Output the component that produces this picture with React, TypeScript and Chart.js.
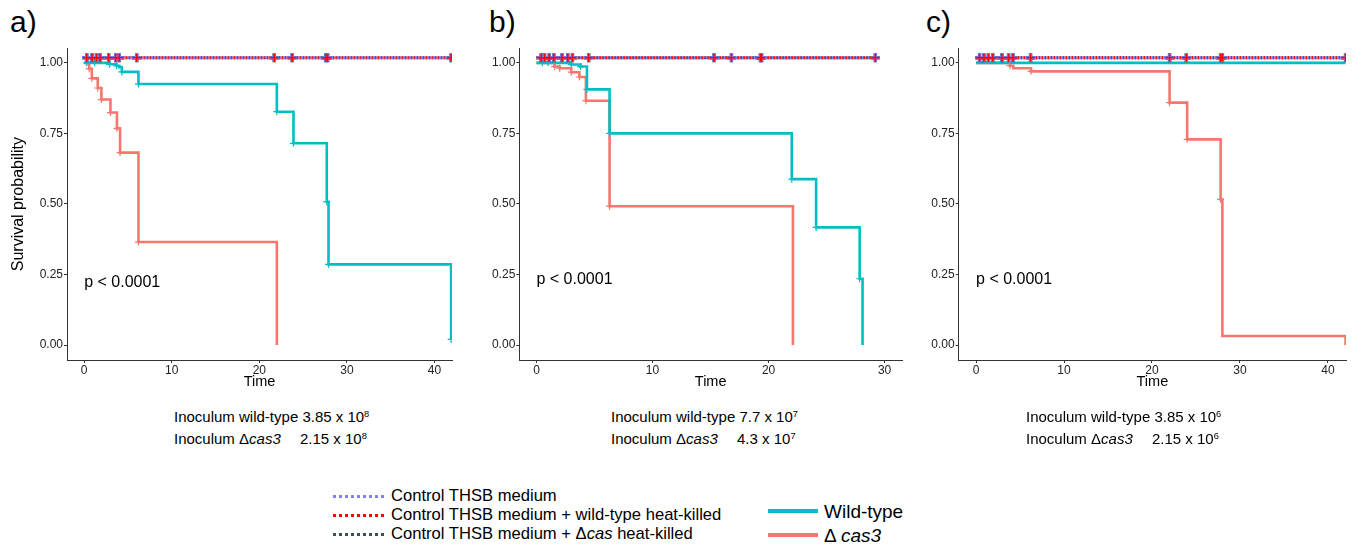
import React, { useEffect, useRef } from "react";
import { Chart, registerables } from "chart.js";
Chart.register(...registerables);

const FONT = '"Liberation Sans", Arial, Helvetica, sans-serif';
const WILD_COLOR = "#00BFC4";
const CAS_COLOR = "#F8766D";
const CTRL_DARK = "#2F5656";
const CTRL_RED = "#FF0000";
const CTRL_BLUE = "#8080FF";

// ---- shared ----
const yTicks = [0, 0.25, 0.5, 0.75, 1];
const controlLevel = 1.018;

// ---- panel a ----
const aTimeTicks = [0, 10, 20, 30, 40];
const aWildTimes = [0, 2.9, 3.7, 4.0, 4.3, 6.2, 22, 23.9, 27.7, 27.9, 41.9];
const aWildSurv = [1, 0.995, 0.99, 0.985, 0.968, 0.925, 0.827, 0.715, 0.508, 0.286, 0.02];
const aCasTimes = [0, 0.57, 0.87, 1.55, 1.97, 3.0, 3.74, 4.1, 6.2, 22];
const aCasSurv = [1, 0.979, 0.945, 0.911, 0.87, 0.824, 0.768, 0.682, 0.365, 0];
const aWildCensor = [0.3, 1.2, 2.9, 3.7, 4.3, 6.2, 22, 23.9, 27.7, 27.9, 41.9];
const aCasCensor = [0.57, 0.87, 1.55, 1.97, 3.0, 3.74, 4.1, 6.2];
const aCtrlCensor = [0.3, 0.9, 1.4, 1.8, 2.8, 3.6, 4.0, 6.0, 21.7, 23.75, 27.6, 27.8, 41.9];

// ---- panel b ----
const bTimeTicks = [0, 10, 20, 30];
const bWildTimes = [0, 3.0, 3.8, 4.35, 6.3, 22, 24.1, 27.85, 28.1];
const bWildSurv = [1, 0.994, 0.987, 0.906, 0.75, 0.588, 0.417, 0.235, 0];
const bCasTimes = [0, 1.56, 2.0, 3.0, 3.7, 4.26, 6.3, 22.1];
const bCasSurv = [1, 0.987, 0.981, 0.967, 0.95, 0.866, 0.492, 0];
const bWildCensor = [0.5, 1.0, 3.0, 3.8, 4.35, 6.3, 22, 24.1, 27.85];
const bCasCensor = [1.56, 2.0, 3.0, 3.7, 4.26, 6.3];
const bCtrlCensor = [0.4, 0.7, 1.1, 1.5, 2.2, 2.7, 3.1, 4.5, 15.3, 16.8, 19.3, 19.4, 29.2];

// ---- panel c ----
const cTimeTicks = [0, 10, 20, 30, 40];
const cWildTimes = [0, 42];
const cWildSurv = [1, 1];
const cCasTimes = [0, 3.86, 4.24, 6.25, 22, 24, 27.8, 28, 42];
const cCasSurv = [1, 0.99, 0.981, 0.97, 0.859, 0.729, 0.516, 0.032, 0];
const cWildCensor: number[] = [];
const cCasCensor = [3.86, 6.25, 22, 24, 27.8];
const cCtrlCensor = [0.4, 0.9, 1.4, 1.9, 2.95, 3.7, 4.2, 6.2, 22, 23.9, 27.8, 28, 42];

type Panel = {
  label: string;
  left: number;
  width: number;
  yAxisWidth: number;
  padRight: number;
  xMin: number;
  xMax: number;
  xTicks: number[];
  wildT: number[];
  wildS: number[];
  casT: number[];
  casS: number[];
  wildC: number[];
  casC: number[];
  ctrlC: number[];
  yTitle: boolean;
  pY: number;
  labelX: number;
  subX: number;
  sub1: string;
  sub1Exp: string;
  sub2: string;
  sub2Exp: string;
};

const panels: Panel[] = [
  {
    label: "a)", left: 0, width: 460, yAxisWidth: 67, padRight: 5, xMin: -1.96, xMax: 42,
    xTicks: aTimeTicks, wildT: aWildTimes, wildS: aWildSurv, casT: aCasTimes, casS: aCasSurv,
    wildC: aWildCensor, casC: aCasCensor, ctrlC: aCtrlCensor, yTitle: true, pY: 0.222,
    labelX: 10, subX: 174, sub1: "3.85 x 10", sub1Exp: "8", sub2: "2.15 x 10", sub2Exp: "8",
  },
  {
    label: "b)", left: 460, width: 450, yAxisWidth: 59.3, padRight: 3.3, xMin: -1.48, xMax: 31.5,
    xTicks: bTimeTicks, wildT: bWildTimes, wildS: bWildSurv, casT: bCasTimes, casS: bCasSurv,
    wildC: bWildCensor, casC: bCasCensor, ctrlC: bCtrlCensor, yTitle: false, pY: 0.232,
    labelX: 489, subX: 611, sub1: "7.7 x 10", sub1Exp: "7", sub2: "4.3 x 10", sub2Exp: "7",
  },
  {
    label: "c)", left: 900, width: 454, yAxisWidth: 58.7, padRight: 8, xMin: -1.97, xMax: 42.05,
    xTicks: cTimeTicks, wildT: cWildTimes, wildS: cWildSurv, casT: cCasTimes, casS: cCasSurv,
    wildC: cWildCensor, casC: cCasCensor, ctrlC: cCtrlCensor, yTitle: false, pY: 0.232,
    labelX: 926, subX: 1026, sub1: "3.85 x 10", sub1Exp: "6", sub2: "2.15 x 10", sub2Exp: "6",
  },
];

const stepAt = (T: number[], S: number[], t: number) => {
  let v = S[0];
  for (let i = 0; i < T.length; i++) if (T[i] <= t + 1e-9) v = S[i];
  return v;
};

const pValuePlugin = {
  id: "pvalue",
  afterDatasetsDraw(chart: any, _args: any, opts: any) {
    const { ctx, scales } = chart;
    ctx.save();
    ctx.font = `16px ${FONT}`;
    ctx.fillStyle = "#000";
    ctx.textBaseline = "middle";
    ctx.textAlign = "left";
    ctx.fillText(opts.text, scales.x.getPixelForValue(opts.x), scales.y.getPixelForValue(opts.y));
    ctx.restore();
  },
};

function KMChart({ p }: { p: Panel }) {
  const ref = useRef<HTMLCanvasElement>(null);
  useEffect(() => {
    const ctrlMax = p.ctrlC[p.ctrlC.length - 1];
    const line = (T: number[], S: number[], color: string, order: number) => ({
      type: "line",
      data: T.map((t, i) => ({ x: t, y: S[i] })),
      borderColor: color,
      borderWidth: 2.6,
      stepped: "before",
      pointRadius: 0,
      fill: false,
      order,
    });
    const ctrl = (color: string, offset: number, order: number) => ({
      type: "line",
      data: [{ x: 0, y: controlLevel }, { x: ctrlMax, y: controlLevel }],
      borderColor: color,
      borderWidth: 3,
      borderDash: [1.5, 1.5],
      borderDashOffset: offset,
      pointRadius: 0,
      fill: false,
      order,
    });
    const marks = (pts: { x: number; y: number }[], color: string, r: number, w: number, order: number) => ({
      type: "line",
      showLine: false,
      data: pts,
      pointStyle: "cross",
      pointRadius: r,
      pointBorderColor: color,
      pointBackgroundColor: color,
      pointBorderWidth: w,
      borderColor: color,
      order,
    });
    const ctrlPts = p.ctrlC.map((t) => ({ x: t, y: controlLevel }));
    const wildPts = p.wildC.map((t) => ({ x: t, y: stepAt(p.wildT, p.wildS, t) }));
    const casPts = p.casC.map((t) => ({ x: t, y: stepAt(p.casT, p.casS, t) }));

    const chart = new Chart(ref.current!, {
      type: "line",
      data: {
        datasets: [
          marks(ctrlPts, CTRL_RED, 4, 1.6, 0),
          marks(ctrlPts, CTRL_BLUE, 4.5, 3, 1),
          marks(ctrlPts, CTRL_DARK, 4.5, 3.5, 2),
          ctrl(CTRL_BLUE, 1.5, 3),
          ctrl(CTRL_RED, 0, 4),
          ctrl(CTRL_DARK, 0.75, 5),
          marks(wildPts, WILD_COLOR, 3.5, 1.2, 6),
          marks(casPts, CAS_COLOR, 3.5, 1.2, 7),
          line(p.wildT, p.wildS, WILD_COLOR, 8),
          line(p.casT, p.casS, CAS_COLOR, 9),
        ] as any,
      },
      options: {
        animation: false,
        responsive: false,
        events: [],
        layout: { padding: { top: 6, right: p.padRight, left: 0, bottom: 0 } },
        plugins: {
          legend: { display: false },
          tooltip: { enabled: false },
          pvalue: { text: "p < 0.0001", x: 0, y: p.pY },
        } as any,
        scales: {
          x: {
            type: "linear",
            min: p.xMin,
            max: p.xMax,
            afterBuildTicks: (s: any) => {
              s.ticks = p.xTicks.map((v) => ({ value: v }));
            },
            afterFit: (s: any) => {
              s.height = 40;
            },
            grid: { display: true, drawOnChartArea: false, drawTicks: true, tickLength: 3, color: "#333" },
            border: { display: true, color: "#333", width: 1 },
            ticks: {
              padding: 0,
              color: "#222",
              font: { family: FONT, size: 12 },
              callback: (v: any) => String(v),
            },
            title: {
              display: true,
              text: "Time",
              color: "#000",
              font: { family: FONT, size: 14.5 },
              padding: { top: 0, bottom: 9.3 },
            },
          },
          y: {
            type: "linear",
            min: -0.053,
            max: 1.052,
            afterBuildTicks: (s: any) => {
              s.ticks = yTicks.map((v) => ({ value: v }));
            },
            afterFit: (s: any) => {
              s.width = p.yAxisWidth;
            },
            grid: { display: true, drawOnChartArea: false, drawTicks: true, tickLength: 3, color: "#333" },
            border: { display: true, color: "#333", width: 1 },
            ticks: {
              padding: 1,
              color: "#222",
              font: { family: FONT, size: 12 },
              callback: (v: any) => Number(v).toFixed(2),
            },
            title: {
              display: p.yTitle,
              text: "Survival probability",
              color: "#000",
              font: { family: FONT, size: 16 },
              padding: { top: 9, bottom: 0 },
            },
          },
        },
      } as any,
      plugins: [pValuePlugin as any],
    });
    return () => chart.destroy();
  }, [p]);
  return (
    <canvas
      ref={ref}
      width={p.width}
      height={360}
      style={{ position: "absolute", left: p.left, top: 40, width: p.width, height: 360 }}
    />
  );
}

function Txt({ x, cy, size, children, style }: any) {
  return (
    <div
      style={{
        position: "absolute",
        left: x,
        top: cy - 0.4865 * size,
        fontSize: size,
        lineHeight: `${size}px`,
        fontFamily: FONT,
        color: "#000",
        whiteSpace: "nowrap",
        ...style,
      }}
    >
      {children}
    </div>
  );
}

const sup = { fontSize: "0.62em", verticalAlign: "0.55em" } as const;

function DottedSwatch({ x, cy, color }: any) {
  return (
    <div
      style={{
        position: "absolute",
        left: x,
        top: cy - 1.5,
        width: 53,
        height: 3,
        background: `repeating-linear-gradient(90deg, ${color} 0px, ${color} 3.5px, transparent 3.5px, transparent 6px)`,
      }}
    />
  );
}

function SolidSwatch({ x, cy, color }: any) {
  return (
    <div style={{ position: "absolute", left: x, top: cy - 2, width: 50, height: 4, background: color }} />
  );
}

export default function App() {
  return (
    <div style={{ position: "absolute", left: 0, top: 0, width: 1354, height: 544, background: "#fff", overflow: "hidden" }}>
      {panels.map((p) => (
        <KMChart key={p.label} p={p} />
      ))}
      {panels.map((p) => (
        <Txt key={"l" + p.label} x={p.labelX} cy={22} size={30}>
          {p.label}
        </Txt>
      ))}
      {panels.map((p) => (
        <React.Fragment key={"s" + p.label}>
          <Txt x={p.subX} cy={414} size={15}>
            Inoculum wild-type {p.sub1}
            <span style={sup}>{p.sub1Exp}</span>
          </Txt>
          <Txt x={p.subX} cy={436} size={15}>
            <span style={{ display: "inline-block", width: 126 }}>
              Inoculum Δ<i>cas3</i>
            </span>
            {p.sub2}
            <span style={sup}>{p.sub2Exp}</span>
          </Txt>
        </React.Fragment>
      ))}
      <DottedSwatch x={333} cy={496} color={CTRL_BLUE} />
      <DottedSwatch x={333} cy={515} color={CTRL_RED} />
      <DottedSwatch x={333} cy={534} color={CTRL_DARK} />
      <Txt x={391} cy={496} size={16.6}>Control THSB medium</Txt>
      <Txt x={391} cy={515} size={16.6}>Control THSB medium + wild-type heat-killed</Txt>
      <Txt x={391} cy={534} size={16.6}>
        Control THSB medium + Δ<i>cas</i> heat-killed
      </Txt>
      <SolidSwatch x={768} cy={511} color={WILD_COLOR} />
      <SolidSwatch x={768} cy={535} color={CAS_COLOR} />
      <Txt x={824} cy={511} size={19}>Wild-type</Txt>
      <Txt x={824} cy={535} size={19}>
        Δ <i>cas3</i>
      </Txt>
    </div>
  );
}
